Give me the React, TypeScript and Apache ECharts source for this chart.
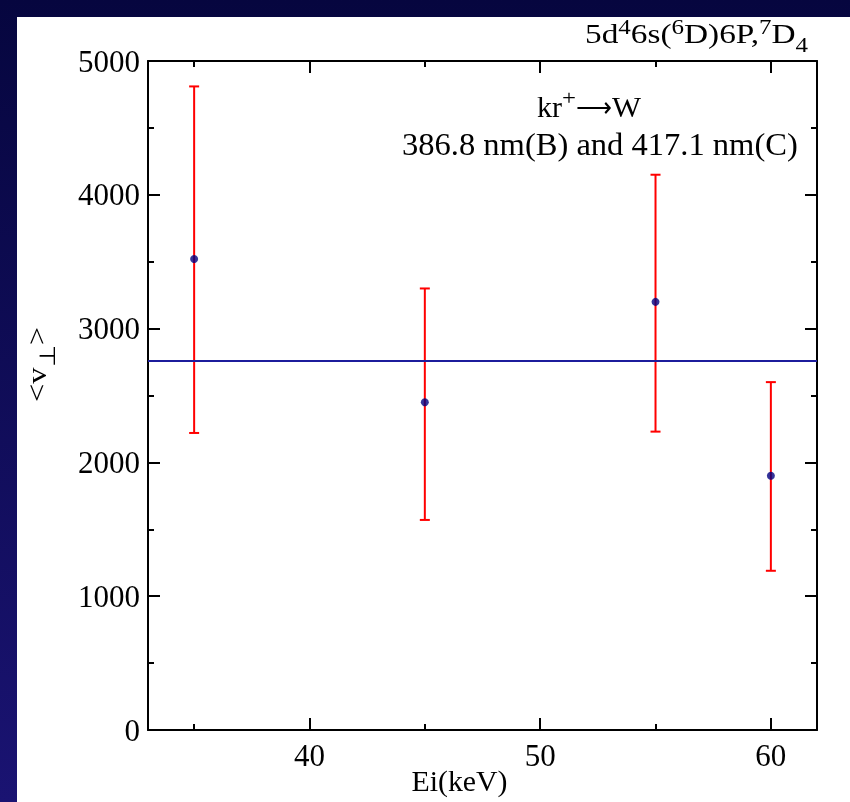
import React, { useEffect, useRef } from "react";
import * as echarts from "echarts";

const energies = [35, 45, 55, 60];
const velocities = [3520, 2450, 3200, 1900];
const errLow = [2220, 1570, 2230, 1190];
const errHigh = [4810, 3300, 4150, 2600];
const meanVelocity = 2760;
const xMajorTicks = [40, 50, 60];
const xMinorTicks = [35, 45, 55];

const FONT = "'Liberation Serif', 'Times New Roman', serif";

type Piece = { t: string; size: number; rise?: number; w?: number };

let measureCtx: CanvasRenderingContext2D | null = null;
function measure(t: string, size: number): number {
  if (!measureCtx) measureCtx = document.createElement("canvas").getContext("2d");
  if (!measureCtx) return t.length * size * 0.5;
  measureCtx.font = `${size}px ${FONT}`;
  return measureCtx.measureText(t).width;
}

function textLine(
  pieces: Piece[],
  x: number,
  baseline: number,
  align: "left" | "center" | "right",
  fitWidth?: number,
  rotation?: number
) {
  const natural = pieces.map((p) => measure(p.t, p.size));
  const sxs = pieces.map((p, i) => (p.w ? p.w / natural[i] : 1));
  const widths = natural.map((n, i) => n * sxs[i]);
  const W = widths.reduce((a, b) => a + b, 0);
  const scale = fitWidth ? fitWidth / W : 1;
  let cx = align === "right" ? -W : align === "center" ? -W / 2 : 0;
  const children = pieces.map((p, i) => {
    const el = {
      type: "text",
      x: cx,
      y: -(p.rise ?? 0) - 0.3375 * p.size,
      scaleX: sxs[i],
      silent: true,
      style: {
        text: p.t,
        fontFamily: FONT,
        fontSize: p.size,
        fill: "#000",
        align: "left",
        verticalAlign: "middle",
      },
    };
    cx += widths[i];
    return el;
  });
  return { type: "group", x, y: baseline, scaleX: scale, rotation: rotation ?? 0, children };
}

export default function App() {
  const ref = useRef<HTMLDivElement>(null);

  useEffect(() => {
    if (!ref.current) return;
    const chart = echarts.init(ref.current, undefined, { renderer: "svg" });

    const pointData = energies.map((e, i) => [e, velocities[i]]);
    const errData = energies.map((e, i) => [e, errLow[i], errHigh[i]]);

    const axisLine = { show: true, lineStyle: { color: "#000", width: 2 } };
    const tickStyle = { color: "#000", width: 2 };

    const xBase = (pos: string, major: boolean, showLine: boolean, showLabel: boolean) => ({
      type: "value",
      min: 33,
      max: 62,
      position: pos,
      axisLine: showLine ? axisLine : { show: false },
      axisTick: {
        show: true,
        inside: true,
        length: major ? 12 : 6,
        customValues: major ? xMajorTicks : xMinorTicks,
        lineStyle: tickStyle,
      },
      axisLabel: showLabel
        ? { show: true, customValues: xMajorTicks, fontFamily: FONT, fontSize: 31, color: "#000", margin: 10 }
        : { show: false },
      splitLine: { show: false },
    });

    const yBase = (pos: string, showLabel: boolean) => ({
      type: "value",
      min: 0,
      max: 5000,
      interval: 1000,
      position: pos,
      axisLine,
      axisTick: { show: true, inside: true, length: 12, lineStyle: tickStyle },
      minorTick: { show: true, splitNumber: 2, length: 6, lineStyle: tickStyle },
      axisLabel: showLabel
        ? {
            show: true,
            fontFamily: FONT,
            fontSize: 31,
            color: "#000",
            margin: 8,
            formatter: (v: number) => String(v),
          }
        : { show: false },
      splitLine: { show: false },
    });

    const title = textLine(
      [
        { t: "5d", size: 28 },
        { t: "4", size: 21, rise: 10 },
        { t: "6s(", size: 28 },
        { t: "6", size: 21, rise: 10 },
        { t: "D)6P,", size: 28 },
        { t: "7", size: 21, rise: 10 },
        { t: "D", size: 28 },
        { t: "4", size: 21, rise: -8 },
      ],
      808,
      43.5,
      "right",
      223
    );
    const reaction = textLine(
      [
        { t: "kr", size: 30, w: 25 },
        { t: "+", size: 20, rise: 12, w: 14 },
        { t: "⟶", size: 30, rise: 0, w: 36 },
        { t: "W", size: 30, w: 29 },
      ],
      589,
      117,
      "center"
    );
    const lines = textLine([{ t: "386.8 nm(B) and 417.1 nm(C)", size: 31 }], 600, 155, "center", 396);
    const xName = textLine([{ t: "Ei(keV)", size: 30 }], 459.5, 791, "center", 96);
    const yName = textLine(
      [
        { t: "<v", size: 28 },
        { t: "⊥", size: 22, rise: -9 },
        { t: ">", size: 28 },
      ],
      46,
      364.5,
      "center",
      75,
      Math.PI / 2
    );

    chart.setOption({
      animation: false,
      grid: { left: 148, top: 61, right: 33, bottom: 72, containLabel: false },
      xAxis: [
        xBase("bottom", true, true, true),
        xBase("bottom", false, false, false),
        xBase("top", true, true, false),
        xBase("top", false, false, false),
      ],
      yAxis: [yBase("left", true), yBase("right", false)],
      graphic: [
        {
          type: "rect",
          z: -100,
          silent: true,
          shape: { x: 0, y: 0, width: 850, height: 802 },
          style: {
            fill: new echarts.graphic.LinearGradient(0, 0, 0, 1, [
              { offset: 0, color: "#06063f" },
              { offset: 1, color: "#1a1372" },
            ]),
          },
        },
        {
          type: "rect",
          z: -99,
          silent: true,
          shape: { x: 17, y: 17, width: 833, height: 785 },
          style: { fill: "#ffffff" },
        },
        title,
        reaction,
        lines,
        xName,
        yName,
      ],
      series: [
        {
          type: "custom",
          xAxisIndex: 0,
          yAxisIndex: 0,
          z: 3,
          renderItem: (params: any, api: any) => {
            const x = api.value(0);
            const lo = api.coord([x, api.value(1)]);
            const hi = api.coord([x, api.value(2)]);
            const half = 5;
            const style = { stroke: "#ff0000", lineWidth: 2 };
            return {
              type: "group",
              children: [
                { type: "line", shape: { x1: lo[0], y1: lo[1], x2: hi[0], y2: hi[1] }, style },
                { type: "line", shape: { x1: lo[0] - half, y1: lo[1], x2: lo[0] + half, y2: lo[1] }, style },
                { type: "line", shape: { x1: hi[0] - half, y1: hi[1], x2: hi[0] + half, y2: hi[1] }, style },
              ],
            };
          },
          data: errData,
        },
        {
          type: "scatter",
          xAxisIndex: 0,
          yAxisIndex: 0,
          z: 4,
          symbol: "circle",
          symbolSize: 8,
          itemStyle: { color: "#000080" },
          data: pointData,
          markLine: {
            silent: true,
            symbol: ["none", "none"],
            label: { show: false },
            lineStyle: { color: "#1c1c9c", width: 2, type: "solid" },
            data: [{ yAxis: meanVelocity }],
          },
        },
      ],
    });

    return () => chart.dispose();
  }, []);

  return (
    <div
      ref={ref}
      style={{ position: "fixed", left: 0, top: 0, width: 850, height: 802 }}
    />
  );
}
